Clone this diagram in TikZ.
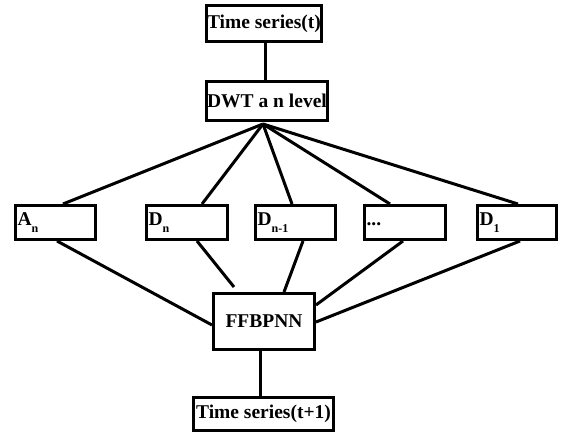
\documentclass[tikz,border=0pt]{standalone}
\usepackage{fontspec}
\setmainfont{Liberation Serif}
\newcommand{\subn}[1]{\raisebox{-6.5pt}{\fontsize{12}{12}\selectfont #1}}
\begin{document}
\begin{tikzpicture}[x=1pt,y=-1pt,
  box/.style={draw, line width=3pt, inner sep=0pt, font=\fontsize{19.5}{20}\selectfont\bfseries},
  lowbox/.style={box, minimum height=34, align=left, text width=#1-4, inner xsep=2pt},
  conn/.style={line width=3pt}]
\useasboundingbox (0,0) rectangle (572,434);
\node[box, minimum width=115, minimum height=36.5] (ts) at (264,23.5) {Time series(t)};
\node[box, minimum width=121, minimum height=39] (dwt) at (267,101) {DWT a n level};
\node[lowbox=80] (An) at (55.5,222.5) {A\subn{n}};
\node[lowbox=81] (Dn) at (187,222.5) {D\subn{n}};
\node[lowbox=80] (Dn1) at (295.5,222.5) {D\subn{n-1}};
\node[lowbox=81] (dots) at (405,222.5) {\vphantom{D\subn{n}}...};
\node[lowbox=79] (D1) at (517,222.5) {D\subn{1}};
\node[box, minimum width=101, minimum height=56] (ffb) at (264,321.5) {FFBPNN};
\node[box, minimum width=140, minimum height=33] (out) at (263.5,414) {Time series(t+1)};
\coordinate (hub) at (263,124);
\coordinate (dnend) at (234,287);
\draw[conn] ([xshift=1]ts.south) -- ([xshift=1]ts.south |- dwt.north);
\draw[conn] ([xshift=-4]ffb.south) -- ([xshift=-4]ffb.south |- out.north);
\draw[conn] (hub) -- ([xshift=7.5]An.north);
\draw[conn] (hub) -- ([xshift=15]Dn.north);
\draw[conn] (hub) -- ([xshift=-3.5]Dn1.north);
\draw[conn] (hub) -- ([xshift=-15]dots.north);
\draw[conn] (hub) -- ([xshift=1]D1.north);
\draw[conn] ([xshift=1.5]An.south) -- ([yshift=-3.5]ffb.west);
\draw[conn] ([xshift=10]Dn.south) -- (dnend);
\draw[conn] ([xshift=7.5]Dn1.south) -- ([xshift=20]ffb.north);
\draw[conn] ([xshift=-2]dots.south) -- ([yshift=16.5]ffb.east);
\draw[conn] ([xshift=3]D1.south) -- ([yshift=-0.5]ffb.east);
\end{tikzpicture}
\end{document}
